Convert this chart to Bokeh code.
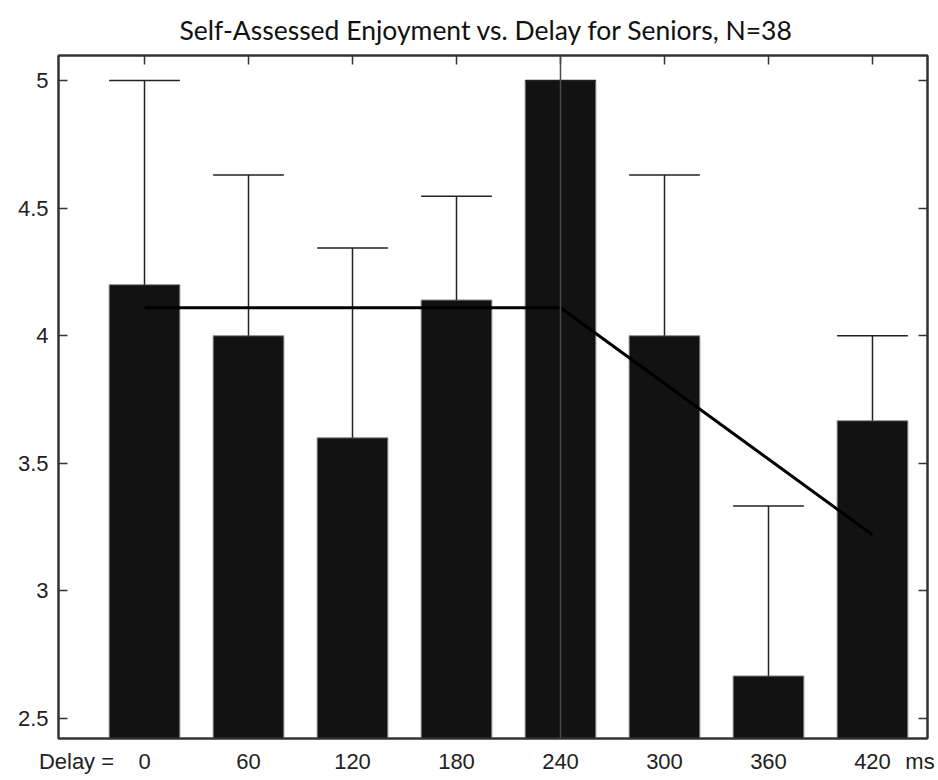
from bokeh.plotting import figure
from bokeh.models import Range1d, FixedTicker, LinearAxis, Span
from bokeh.embed import file_html
from bokeh.resources import INLINE

# ---- data ----
delays = ["0", "60", "120", "180", "240", "300", "360", "420"]
delay_ms = [0, 60, 120, 180, 240, 300, 360, 420]
means = [4.2, 4.0, 3.6, 4.14, 5.0, 4.0, 2.667, 3.667]
err_top = [5.0, 4.63, 4.344, 4.547, 5.0, 4.63, 3.333, 4.0]
fit_delay = [0, 240, 420]
fit_value = [4.11, 4.11, 3.22]
y_ticks = [2.5, 3, 3.5, 4, 4.5, 5]
y_tick_labels = ["2.5", "3", "3.5", "4", "4.5", "5"]
title_text = "Self-Assessed Enjoyment vs. Delay for Seniors, N=38"
prefix_text = "Delay ="
unit_text = "ms"
breakpoint_delay = 240

def pos(d):
    return d / 60.0 + 1

xs = [pos(d) for d in delay_ms]
bar_w = 0.68

p = figure(width=936, height=776, output_backend="svg", toolbar_location=None,
           x_range=Range1d(0.173, 8.529), y_range=Range1d(2.422, 5.098),
           min_border_left=58, min_border_right=9, min_border_top=55, min_border_bottom=36,
           x_axis_location=None, y_axis_location=None)
p.grid.visible = False
p.outline_line_color = "#333333"
p.outline_line_width = 2
p.background_fill_color = "white"
p.border_fill_color = "white"

p.title.text = title_text
p.title.text_font = "Lato"
p.title.text_font_size = "26.5px"
p.title.text_font_style = "normal"
p.title.text_color = "#111111"
p.title.align = "left"
p.title.offset = 121
p.title.standoff = 19

tick_font = "Liberation Sans"

def style_axis(ax):
    ax.major_tick_in = 9
    ax.major_tick_out = 0
    ax.minor_tick_line_color = None
    ax.axis_line_color = "#333333"
    ax.axis_line_width = 2
    ax.major_tick_line_color = "#333333"
    ax.major_tick_line_width = 1.5
    ax.major_label_text_font = tick_font
    ax.major_label_text_font_size = "22px"
    ax.major_label_text_color = "#222222"

left = LinearAxis(ticker=FixedTicker(ticks=y_ticks),
                  major_label_overrides={t: l for t, l in zip(y_ticks, y_tick_labels)})
style_axis(left)
left.major_label_standoff = 10
p.add_layout(left, "left")

right = LinearAxis(ticker=FixedTicker(ticks=y_ticks),
                   major_label_overrides={t: "" for t in y_ticks})
style_axis(right)
right.major_label_standoff = 0
right.major_label_text_color = None
p.add_layout(right, "right")

# bottom axis: delay values plus the "Delay =" prefix and "ms" unit as labels
prefix_pos = 0.346
unit_pos = 8.457
bottom_ticks = [prefix_pos] + xs + [unit_pos]
bottom_labels = [prefix_text] + delays + [unit_text]
bottom = LinearAxis(ticker=FixedTicker(ticks=bottom_ticks),
                    major_label_overrides={x: l for x, l in zip(bottom_ticks, bottom_labels)})
style_axis(bottom)
bottom.major_tick_in = 0
bottom.major_label_standoff = 10
p.add_layout(bottom, "below")

top = LinearAxis(ticker=FixedTicker(ticks=xs),
                 major_label_overrides={x: "" for x in xs})
style_axis(top)
top.major_label_standoff = 0
top.major_label_text_color = None
p.add_layout(top, "above")

# bars
p.vbar(x=xs, top=means, bottom=2.0, width=bar_w, fill_color="#121212",
       line_color="#8a8a8a", line_width=1)

# error bars (upper only)
p.segment(x0=xs, y0=means, x1=xs, y1=err_top, line_color="#222222", line_width=1.5)
p.segment(x0=[x - bar_w / 2 for x in xs], y0=err_top, x1=[x + bar_w / 2 for x in xs],
          y1=err_top, line_color="#222222", line_width=1.5)

# breakpoint line
p.add_layout(Span(location=pos(breakpoint_delay), dimension="height",
                  line_color="#4a4a4a", line_width=1.5))

# fitted piecewise line
p.line(x=[pos(d) for d in fit_delay], y=fit_value, line_color="black", line_width=3)

open("out.html", "w").write(file_html(p, INLINE))
